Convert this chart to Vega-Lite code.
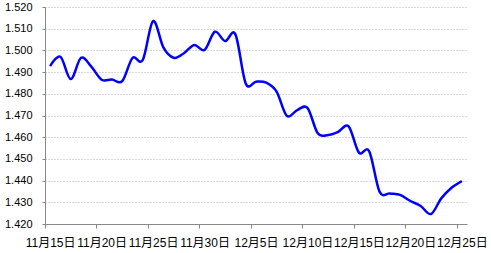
{
  "$schema": "https://vega.github.io/schema/vega-lite/v6.json",
  "autosize": "none",
  "width": 422,
  "height": 217,
  "padding": {"left": 45, "top": 7, "right": 24, "bottom": 29},
  "background": "white",
  "config": {"view": {"stroke": null}},
  "data": {
    "values": [
      {"i": 0, "date": "11月15日", "v": 1.4928},
      {"i": 1, "date": "11月16日", "v": 1.4971},
      {"i": 2, "date": "11月17日", "v": 1.4868},
      {"i": 3, "date": "11月18日", "v": 1.4966},
      {"i": 4, "date": "11月19日", "v": 1.4925},
      {"i": 5, "date": "11月20日", "v": 1.4865},
      {"i": 6, "date": "11月21日", "v": 1.4866},
      {"i": 7, "date": "11月22日", "v": 1.4858},
      {"i": 8, "date": "11月23日", "v": 1.4965},
      {"i": 9, "date": "11月24日", "v": 1.4956},
      {"i": 10, "date": "11月25日", "v": 1.5135},
      {"i": 11, "date": "11月26日", "v": 1.5014},
      {"i": 12, "date": "11月27日", "v": 1.4966},
      {"i": 13, "date": "11月28日", "v": 1.4987},
      {"i": 14, "date": "11月29日", "v": 1.5025},
      {"i": 15, "date": "11月30日", "v": 1.5002},
      {"i": 16, "date": "12月1日", "v": 1.5086},
      {"i": 17, "date": "12月2日", "v": 1.5043},
      {"i": 18, "date": "12月3日", "v": 1.5074},
      {"i": 19, "date": "12月4日", "v": 1.4848},
      {"i": 20, "date": "12月5日", "v": 1.4856},
      {"i": 21, "date": "12月6日", "v": 1.4851},
      {"i": 22, "date": "12月7日", "v": 1.4810},
      {"i": 23, "date": "12月8日", "v": 1.4698},
      {"i": 24, "date": "12月9日", "v": 1.4725},
      {"i": 25, "date": "12月10日", "v": 1.4735},
      {"i": 26, "date": "12月11日", "v": 1.4618},
      {"i": 27, "date": "12月12日", "v": 1.4610},
      {"i": 28, "date": "12月13日", "v": 1.4625},
      {"i": 29, "date": "12月14日", "v": 1.4650},
      {"i": 30, "date": "12月15日", "v": 1.4529},
      {"i": 31, "date": "12月16日", "v": 1.4535},
      {"i": 32, "date": "12月17日", "v": 1.4349},
      {"i": 33, "date": "12月18日", "v": 1.4341},
      {"i": 34, "date": "12月19日", "v": 1.4334},
      {"i": 35, "date": "12月20日", "v": 1.4306},
      {"i": 36, "date": "12月21日", "v": 1.4283},
      {"i": 37, "date": "12月22日", "v": 1.4246},
      {"i": 38, "date": "12月23日", "v": 1.4318},
      {"i": 39, "date": "12月24日", "v": 1.4367},
      {"i": 40, "date": "12月25日", "v": 1.4398}
    ]
  },
  "mark": {"type": "line", "color": "#0000FF", "strokeWidth": 2.5, "interpolate": "cardinal"},
  "encoding": {
    "x": {
      "field": "i",
      "type": "quantitative",
      "scale": {"domain": [-0.5, 40.5], "nice": false, "zero": false},
      "axis": {
        "title": null,
        "grid": false,
        "values": [0, 5, 10, 15, 20, 25, 30, 35, 40],
        "labelExpr": "['11月15日','11月20日','11月25日','11月30日','12月5日','12月10日','12月15日','12月20日','12月25日'][datum.value / 5]",
        "tickOffset": -5.15,
        "labelOffset": 5.15,
        "tickSize": 4,
        "tickColor": "#888888",
        "domainColor": "#888888",
        "labelPadding": 9,
        "labelFont": "Liberation Sans, Noto Sans CJK SC",
        "labelFontSize": 12,
        "labelColor": "#000000",
        "labelFlush": false,
        "labelOverlap": false,
        "labelBound": false
      }
    },
    "y": {
      "field": "v",
      "type": "quantitative",
      "scale": {"domain": [1.42, 1.52], "nice": false, "zero": false},
      "axis": {
        "title": null,
        "values": [1.42, 1.43, 1.44, 1.45, 1.46, 1.47, 1.48, 1.49, 1.50, 1.51, 1.52],
        "format": ".3f",
        "grid": true,
        "gridColor": "#b0b0b0",
        "gridDash": [1, 2],
        "gridWidth": 1,
        "tickSize": 3,
        "tickColor": "#888888",
        "domainColor": "#888888",
        "labelPadding": 10,
        "labelFont": "Liberation Sans",
        "labelFontSize": 11,
        "labelColor": "#000000",
        "labelFlush": false,
        "labelOverlap": false
      }
    }
  }
}
